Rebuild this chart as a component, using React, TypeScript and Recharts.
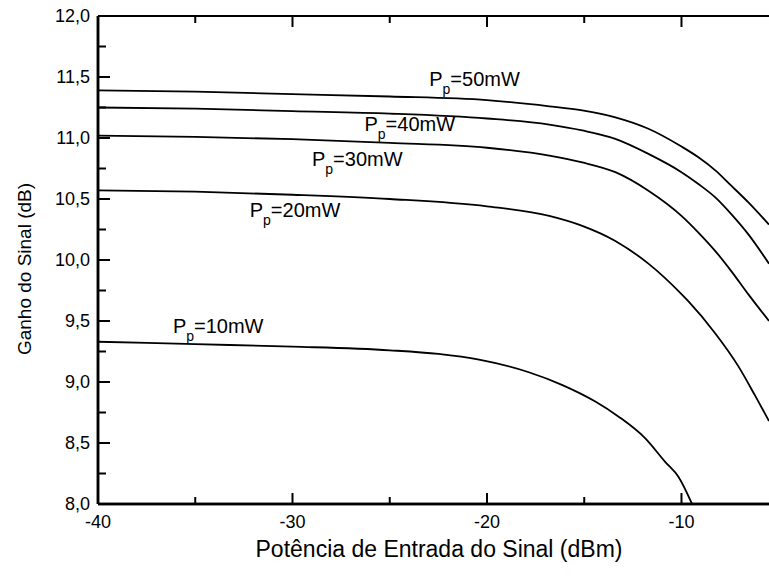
import React from 'react';
import { LineChart, Line, XAxis, YAxis, ReferenceDot, ReferenceLine } from 'recharts';

const xs50 = [-40, -35, -30, -25, -20, -16.8, -15.1, -13.4, -11.7, -10, -9.13, -8.26, -7.44, -6.56, -5.5];
const ys50 = [11.39, 11.38, 11.36, 11.34, 11.31, 11.26, 11.226, 11.17, 11.076, 10.93, 10.842, 10.735, 10.609, 10.472, 10.29];
const xs40 = [-40, -35, -30, -25, -20, -16.8, -15.1, -13.4, -11.7, -10, -9.13, -8.26, -7.44, -6.56, -5.5];
const ys40 = [11.25, 11.24, 11.22, 11.2, 11.16, 11.11, 11.062, 10.993, 10.87, 10.72, 10.623, 10.513, 10.376, 10.21, 9.97];
const xs30 = [-40, -35, -30, -25, -20, -16.8, -15.1, -13.4, -11.7, -10, -9.13, -8.26, -7.44, -6.56, -5.5];
const ys30 = [11.02, 11.01, 10.99, 10.96, 10.92, 10.856, 10.8, 10.72, 10.568, 10.362, 10.225, 10.073, 9.909, 9.718, 9.5];
const xs20 = [-40, -35, -30, -25, -20, -16.8, -15.1, -13.4, -11.7, -10, -9.64, -8.27, -7.08, -6.22, -5.5];
const ys20 = [10.57, 10.56, 10.535, 10.5, 10.44, 10.362, 10.28, 10.156, 9.97, 9.72, 9.66, 9.4, 9.13, 8.89, 8.68];
const xs10 = [-40, -35, -30, -25, -22.5, -20.41, -17.85, -16.15, -14.43, -13.23, -11.86, -10.84, -10.15, -9.4];
const ys10 = [9.33, 9.31, 9.29, 9.26, 9.23, 9.183, 9.08, 8.977, 8.84, 8.716, 8.538, 8.346, 8.222, 7.98];

const seriesNames = ['50mW', '40mW', '30mW', '20mW', '10mW'];
const labelXs = [-22.97, -26.3, -29.0, -32.2, -36.15];
const labelYs = [11.43, 11.06, 10.77, 10.35, 9.4];

const xMajor = [-40, -30, -20, -10];
const xMinor = [-35, -25, -15];
const yMajor = [8, 8.5, 9, 9.5, 10, 10.5, 11, 11.5, 12];
const yMinor = [8.25, 8.75, 9.25, 9.75, 10.25, 10.75, 11.25, 11.75];

const toData = (xs: number[], ys: number[]) => xs.map((x, i) => ({ x, y: ys[i] }));
const allSeries = [
  toData(xs50, ys50),
  toData(xs40, ys40),
  toData(xs30, ys30),
  toData(xs20, ys20),
  toData(xs10, ys10),
];

const FONT = '"Liberation Sans", Arial, sans-serif';
const X_DOMAIN: [number, number] = [-40, -5.5];
const Y_DOMAIN: [number, number] = [8, 12];

// tick lengths expressed in axis units (plot is 671 x 488 px)
const X_PER_PX = (X_DOMAIN[1] - X_DOMAIN[0]) / 671;
const Y_PER_PX = (Y_DOMAIN[1] - Y_DOMAIN[0]) / 488;
const X_TICK_MAJOR = 11 * Y_PER_PX;
const X_TICK_MINOR = 7 * Y_PER_PX;
const Y_TICK_MAJOR = 12 * X_PER_PX;
const Y_TICK_MINOR = 8 * X_PER_PX;

const fmtY = (v: number) => v.toFixed(1).replace('.', ',');

const BottomLabel = (props: any) => {
  const { x, y, payload } = props;
  return (
    <text x={x} y={y + 24} textAnchor="middle" fontSize={18} fontFamily={FONT} fill="#000">
      {String(payload.value)}
    </text>
  );
};

const LeftLabel = (props: any) => {
  const { x, y, payload } = props;
  return (
    <text x={x - 8} y={y + 6} textAnchor="end" fontSize={18} fontFamily={FONT} fill="#000">
      {fmtY(payload.value)}
    </text>
  );
};

const makeLabel = (name: string) => (props: any) => {
  const vb = props.viewBox || {};
  const cx = vb.cx !== undefined ? vb.cx : vb.x + (vb.width || 0) / 2;
  const cy = vb.cy !== undefined ? vb.cy : vb.y + (vb.height || 0) / 2;
  return (
    <text x={cx} y={cy} fontSize={20} fontFamily={FONT} fill="#000">
      <tspan>P</tspan>
      <tspan dy={8} fontSize={14}>p</tspan>
      <tspan dy={-8}>={name}</tspan>
    </text>
  );
};

const XTitle = () => (
  <text x={439} y={557} textAnchor="middle" fontSize={23} fontFamily={FONT} fill="#000">
    Potência de Entrada do Sinal (dBm)
  </text>
);

const YTitle = () => (
  <text
    x={0}
    y={0}
    transform="translate(31, 269) rotate(-90)"
    textAnchor="middle"
    fontSize={19}
    fontFamily={FONT}
    fill="#000"
  >
    Ganho do Sinal (dB)
  </text>
);

const tickRef = (key: string, p1: any, p2: any, w: number) => (
  <ReferenceLine
    key={key}
    xAxisId="b"
    yAxisId="l"
    segment={[p1, p2]}
    stroke="#000"
    strokeWidth={w}
    ifOverflow="visible"
  />
);

export default function App() {
  return (
    <div style={{ position: 'absolute', left: 0, top: 0, background: '#fff' }}>
      <LineChart
        width={769}
        height={579}
        margin={{ top: 6, right: 0, bottom: 15, left: 8 }}
      >
        <XAxis
          xAxisId="b"
          dataKey="x"
          type="number"
          domain={X_DOMAIN}
          allowDataOverflow
          ticks={xMajor}
          interval={0}
          height={60}
          stroke="#000"
          tickSize={0}
          tickMargin={0}
          tickLine={false}
          tick={<BottomLabel />}
          axisLine={{ stroke: '#000', strokeWidth: 2.5 }}
          label={{ value: 'Potência de Entrada do Sinal (dBm)', content: XTitle }}
        />
        <XAxis
          xAxisId="t"
          orientation="top"
          dataKey="x"
          type="number"
          domain={X_DOMAIN}
          allowDataOverflow
          ticks={xMajor}
          interval={0}
          height={10}
          stroke="#000"
          tickLine={false}
          tick={false}
          axisLine={{ stroke: '#000', strokeWidth: 2 }}
        />
        <YAxis
          yAxisId="l"
          dataKey="y"
          type="number"
          domain={Y_DOMAIN}
          allowDataOverflow
          ticks={yMajor}
          interval={0}
          width={90}
          stroke="#000"
          tickSize={0}
          tickMargin={0}
          tickLine={false}
          tick={<LeftLabel />}
          axisLine={{ stroke: '#000', strokeWidth: 2.5 }}
          label={{ value: 'Ganho do Sinal (dB)', content: YTitle }}
        />
        <ReferenceLine xAxisId="b" yAxisId="l" x={X_DOMAIN[0]} stroke="#000" strokeWidth={2.5} ifOverflow="visible" />
        <ReferenceLine xAxisId="b" yAxisId="l" y={Y_DOMAIN[0]} stroke="#000" strokeWidth={2.5} ifOverflow="visible" />
        <ReferenceLine xAxisId="b" yAxisId="l" y={Y_DOMAIN[1]} stroke="#000" strokeWidth={2} ifOverflow="visible" />
        {xMajor.map((v) =>
          tickRef('xb' + v, { x: v, y: Y_DOMAIN[0] }, { x: v, y: Y_DOMAIN[0] + X_TICK_MAJOR }, 2)
        )}
        {xMinor.map((v) =>
          tickRef('xbm' + v, { x: v, y: Y_DOMAIN[0] }, { x: v, y: Y_DOMAIN[0] + X_TICK_MINOR }, 2)
        )}
        {xMajor.map((v) =>
          tickRef('xt' + v, { x: v, y: Y_DOMAIN[1] }, { x: v, y: Y_DOMAIN[1] - X_TICK_MAJOR }, 2)
        )}
        {xMinor.map((v) =>
          tickRef('xtm' + v, { x: v, y: Y_DOMAIN[1] }, { x: v, y: Y_DOMAIN[1] - X_TICK_MINOR }, 2)
        )}
        {yMajor.map((v) =>
          tickRef('yl' + v, { x: X_DOMAIN[0], y: v }, { x: X_DOMAIN[0] + Y_TICK_MAJOR, y: v }, 2)
        )}
        {yMinor.map((v) =>
          tickRef('ylm' + v, { x: X_DOMAIN[0], y: v }, { x: X_DOMAIN[0] + Y_TICK_MINOR, y: v }, 2)
        )}
        {allSeries.map((d, i) => (
          <Line
            key={seriesNames[i]}
            xAxisId="b"
            yAxisId="l"
            data={d}
            dataKey="y"
            type="monotone"
            stroke="#000"
            strokeWidth={1.8}
            dot={false}
            isAnimationActive={false}
          />
        ))}
        {seriesNames.map((n, i) => (
          <ReferenceDot
            key={'lbl' + n}
            xAxisId="b"
            yAxisId="l"
            x={labelXs[i]}
            y={labelYs[i]}
            r={0}
            fill="none"
            stroke="none"
            label={makeLabel(n)}
          />
        ))}
      </LineChart>
    </div>
  );
}
